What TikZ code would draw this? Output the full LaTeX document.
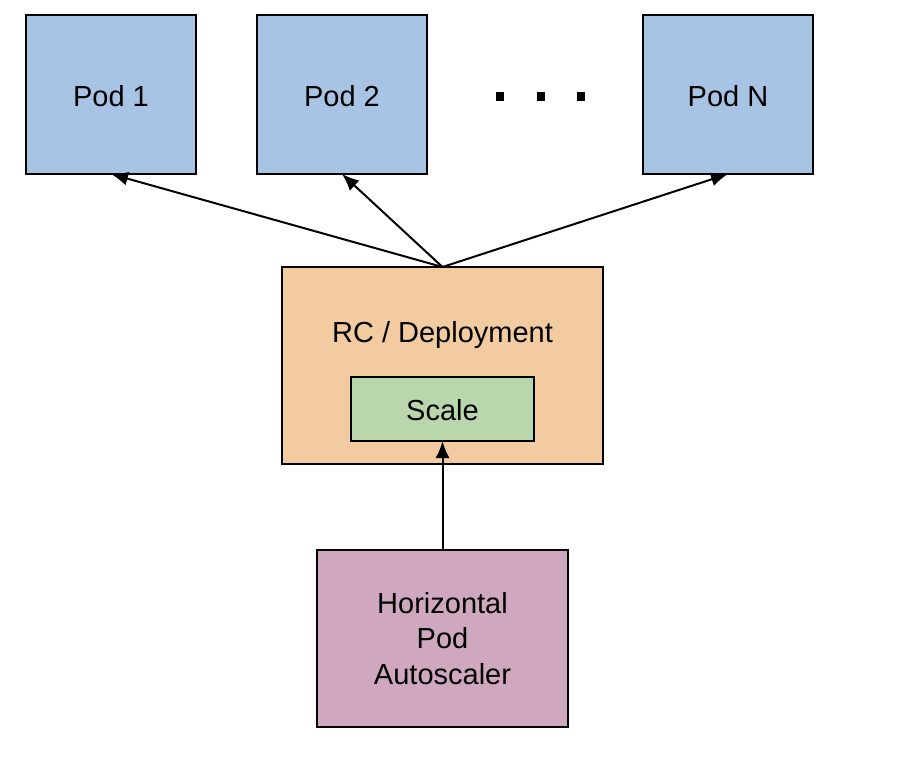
\documentclass[tikz,border=0pt]{standalone}
\usepackage{fontspec}
\setmainfont{Liberation Sans}
\usetikzlibrary{arrows.meta}
\definecolor{podblue}{HTML}{A8C4E4}
\definecolor{rcorange}{HTML}{F2CCA0}
\definecolor{scalegreen}{HTML}{B9D6AC}
\definecolor{hpapink}{HTML}{CFA8BF}
\tikzset{
  box/.style={draw=black, line width=2.2pt, inner sep=0pt, outer sep=0pt, font=\fontsize{29}{35.5}\selectfont, align=center},
  podbox/.style={box, fill=podblue, minimum width=170pt, minimum height=159pt, text depth=0pt},
  conn/.style={line width=2pt, -{Latex[length=17pt,width=14pt]}},
  dotsq/.style={fill=black, minimum size=8.5pt, inner sep=0pt}
}
\begin{document}
\begin{tikzpicture}[x=1pt,y=-1pt]
\useasboundingbox (0,0) rectangle (900,762);
\node[podbox] (p1) at (111,94.5) {\raisebox{-3pt}{Pod 1}};
\node[podbox] (p2) at (342,94.5) {\raisebox{-3pt}{Pod 2}};
\node[podbox] (pn) at (728,94.5) {\raisebox{-3pt}{Pod N}};
\node[dotsq] (d1) at (500,96.5) {};
\node[dotsq] (d2) at (541,96.5) {};
\node[dotsq] (d3) at (581,96.5) {};
\node[box, fill=rcorange, minimum width=321pt, minimum height=197pt] (rc) at (442.5,365.5) {};
\node[font=\fontsize{29}{35}\selectfont] (rct) at (442.5,335) {RC / Deployment};
\node[box, fill=scalegreen, minimum width=183pt, minimum height=64pt, text depth=0pt] (sc) at (442.5,409) {\raisebox{-2pt}{Scale}};
\node[box, fill=hpapink, minimum width=251pt, minimum height=177pt] (hpa) at (442.5,638.5) {Horizontal\\Pod\\Autoscaler};
\draw[conn] (rc.north) -- (p1.south);
\draw[conn] (rc.north) -- (p2.south);
\draw[conn] (rc.north) -- (pn.south);
\draw[conn] (hpa.north) -- (sc.south);
\end{tikzpicture}
\end{document}
